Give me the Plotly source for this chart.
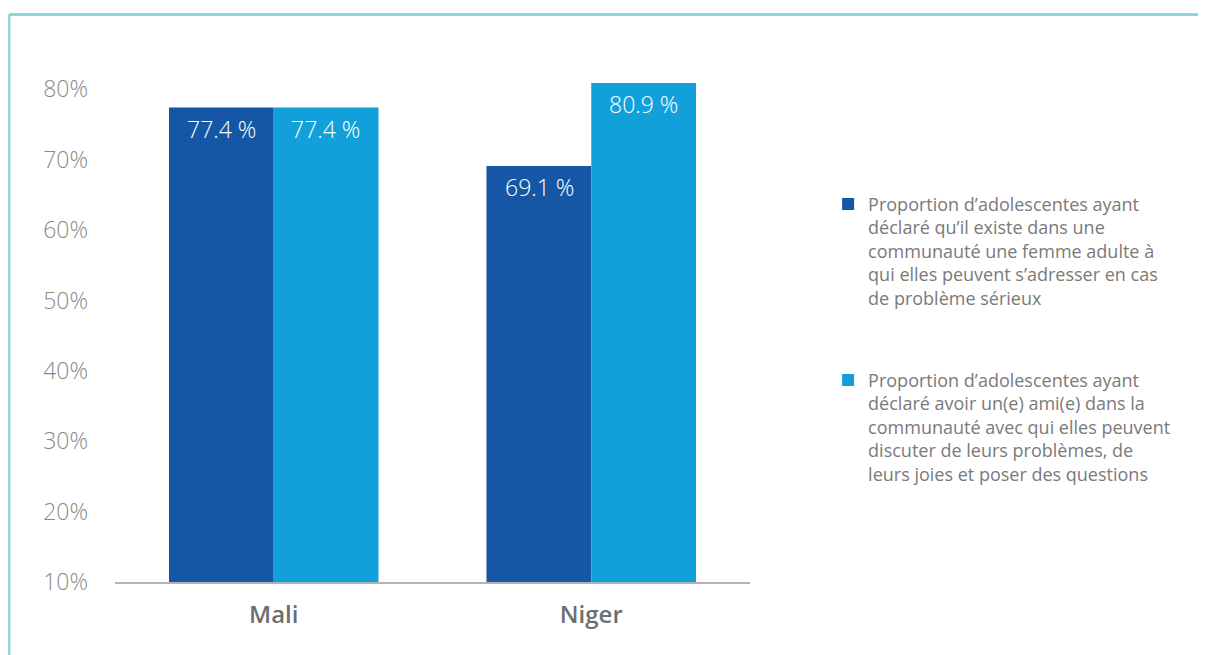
import plotly.graph_objects as go

countries = ["Mali", "Niger"]
femme_adulte = [77.4, 69.1]
ami_e = [77.4, 80.9]
series_names = [
    "Proportion d’adolescentes ayant<br>déclaré qu’il existe dans une<br>communauté une femme adulte à<br>qui elles peuvent s’adresser en cas<br>de problème sérieux",
    "Proportion d’adolescentes ayant<br>déclaré avoir un(e) ami(e) dans la<br>communauté avec qui elles peuvent<br>discuter de leurs problèmes, de<br>leurs joies et poser des questions",
]
tick_vals = [10, 20, 30, 40, 50, 60, 70, 80]
tick_text = ["10%", "20%", "30%", "40%", "50%", "60%", "70%", "80%"]

colors = ["#1557A5", "#12A0DA"]

fig = go.Figure()
for i, (vals, name) in enumerate([(femme_adulte, series_names[0]), (ami_e, series_names[1])]):
    fig.add_trace(go.Bar(
        x=countries, y=[v - 10 for v in vals], base=10, name=name,
        marker=dict(color=colors[i], line=dict(width=0)),
        legendgroup=f"g{i}",
        hoverinfo="skip",
    ))

annotations = []
for i, vals in enumerate([femme_adulte, ami_e]):
    for c, v in zip(countries, vals):
        annotations.append(dict(
            x=c, y=v, xref="x", yref="y", text=f"{v:.1f} %", showarrow=False,
            xshift=-52 if i == 0 else 52, yshift=-21,
            font=dict(family="Open Sans", size=23, color="white", weight=300),
        ))

fig.update_layout(
    width=1198, height=647,
    margin=dict(l=107, r=456, t=32, b=73),
    paper_bgcolor="white", plot_bgcolor="white",
    barmode="group", bargap=0.34, bargroupgap=0,
    showlegend=True,
    legend=dict(
        x=1.123, y=0.731, xanchor="left", yanchor="top",
        font=dict(family="Open Sans", size=18, color="#7a7a7a"),
        valign="top", traceorder="grouped", tracegroupgap=56,
        bgcolor="rgba(0,0,0,0)",
    ),
    xaxis=dict(
        showgrid=False, showline=True, linecolor="#b3b3b3", linewidth=1.5,
        ticks="", ticklabelstandoff=10,
        tickfont=dict(family="Open Sans", size=24, color="#6d6e71", weight=600),
        range=[-0.5, 1.5],
    ),
    yaxis=dict(
        range=[10, 87], showgrid=False, zeroline=False, showline=False,
        tickvals=tick_vals, ticktext=tick_text, ticks="", ticklabelstandoff=26,
        tickfont=dict(family="Open Sans", size=23, color="#8a8a8a", weight=300),
    ),
    annotations=annotations,
    shapes=[
        dict(type="line", xref="paper", yref="paper", x0=-0.167, x1=-0.167, y0=1.047, y1=-0.3,
             line=dict(color="#8FD5DF", width=3)),
        dict(type="line", xref="paper", yref="paper", x0=-0.167, x1=1.9, y0=1.047, y1=1.047,
             line=dict(color="#8FD5DF", width=3)),
    ],
)

fig.write_html("out.html")
